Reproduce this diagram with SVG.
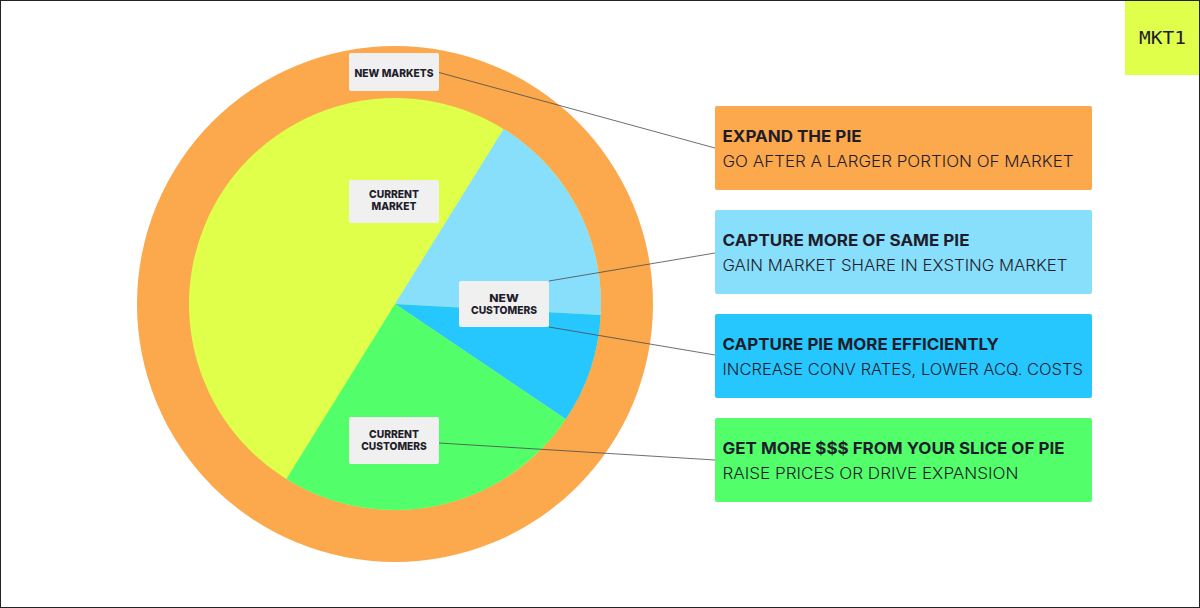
<svg xmlns="http://www.w3.org/2000/svg" width="1200" height="608" viewBox="0 0 1200 608">
<style>
.lbl{fill:#f0f0f0;}
.lt{font-family:Inter,"Noto Sans",sans-serif;font-weight:800;font-size:11px;fill:#1f1d2b;text-anchor:middle;}
.bt{font-family:Inter,"Noto Sans",sans-serif;font-weight:700;font-size:16px;fill:#1f1d2b;}
.bs{font-family:Inter,"Noto Sans",sans-serif;font-weight:300;font-size:15.5px;fill:#1f1d2b;}
.conn line{stroke:#4a4a4a;stroke-width:0.8;}
</style>
<rect x="0" y="0" width="1200" height="608" fill="#ffffff"/>
<g id="pie">
<circle cx="395" cy="304" r="258" fill="#FCA84C"/>
<circle cx="395" cy="304" r="206" fill="#DFFF4B"/>
<path d="M395,304 L503.6,128.9 A206,206 0 0 1 600.7,315.1 Z" fill="#88DFFC"/>
<path d="M395,304 L600.7,315.1 A206,206 0 0 1 565.8,419.2 Z" fill="#26C7FE"/>
<path d="M395,304 L565.8,419.2 A206,206 0 0 1 286.4,479.1 Z" fill="#52FF6B"/>
</g>
<g class="conn" id="connectors">
<line x1="439" y1="72.5" x2="715" y2="148"/>
<line x1="549" y1="281" x2="715" y2="253"/>
<line x1="549" y1="327" x2="715" y2="355"/>
<line x1="439" y1="443" x2="715" y2="460"/>
</g>
<g id="new-markets">
<rect class="lbl" x="349" y="53" width="90" height="38" rx="2"/>
<text class="lt" x="394" y="76.8" textLength="79" lengthAdjust="spacingAndGlyphs">NEW MARKETS</text>
</g>
<g id="current-market">
<rect class="lbl" x="349" y="180" width="90" height="43" rx="2"/>
<text class="lt" x="394" y="197.8" textLength="50" lengthAdjust="spacingAndGlyphs">CURRENT</text>
<text class="lt" x="394" y="209.8" textLength="45" lengthAdjust="spacingAndGlyphs">MARKET</text>
</g>
<g id="new-customers">
<rect class="lbl" x="459" y="281" width="90" height="46" rx="2"/>
<text class="lt" x="504" y="301.8" textLength="29.5" lengthAdjust="spacingAndGlyphs">NEW</text>
<text class="lt" x="504" y="314" textLength="66" lengthAdjust="spacingAndGlyphs">CUSTOMERS</text>
</g>
<g id="current-customers">
<rect class="lbl" x="349" y="417" width="90" height="47" rx="2"/>
<text class="lt" x="394" y="438" textLength="50" lengthAdjust="spacingAndGlyphs">CURRENT</text>
<text class="lt" x="394" y="450.4" textLength="65.5" lengthAdjust="spacingAndGlyphs">CUSTOMERS</text>
</g>
<g id="expand">
<rect x="715" y="106" width="377" height="84" rx="2" fill="#FCA84C"/>
<text class="bt" x="722.5" y="141.5" textLength="139" lengthAdjust="spacingAndGlyphs">EXPAND THE PIE</text>
<text class="bs" x="722.5" y="166.5" textLength="351" lengthAdjust="spacingAndGlyphs">GO AFTER A LARGER PORTION OF MARKET</text>
</g>
<g id="capture-more">
<rect x="715" y="210" width="377" height="84" rx="2" fill="#88DFFC"/>
<text class="bt" x="722.5" y="245.5" textLength="247" lengthAdjust="spacingAndGlyphs">CAPTURE MORE OF SAME PIE</text>
<text class="bs" x="722.5" y="270.5" textLength="345" lengthAdjust="spacingAndGlyphs">GAIN MARKET SHARE IN EXSTING MARKET</text>
</g>
<g id="capture-efficiently">
<rect x="715" y="314" width="377" height="84" rx="2" fill="#26C7FE"/>
<text class="bt" x="722.5" y="349.5" textLength="276.5" lengthAdjust="spacingAndGlyphs">CAPTURE PIE MORE EFFICIENTLY</text>
<text class="bs" x="722.5" y="374.5" textLength="360.5" lengthAdjust="spacingAndGlyphs">INCREASE CONV RATES, LOWER ACQ. COSTS</text>
</g>
<g id="get-more">
<rect x="715" y="418" width="377" height="84" rx="2" fill="#52FF6B"/>
<text class="bt" x="722.5" y="453.5" textLength="342" lengthAdjust="spacingAndGlyphs">GET MORE $$$ FROM YOUR SLICE OF PIE</text>
<text class="bs" x="722.5" y="478.5" textLength="296" lengthAdjust="spacingAndGlyphs">RAISE PRICES OR DRIVE EXPANSION</text>
</g>
<g id="badge">
<rect x="1125" y="0" width="75" height="75" fill="#DFFF4B"/>
<text x="1162.5" y="43.5" font-family="'DejaVu Sans Mono',monospace" font-size="17" fill="#1f1d2b" text-anchor="middle" textLength="47" lengthAdjust="spacingAndGlyphs">MKT1</text>
</g>
<rect x="0.5" y="0.5" width="1199" height="607" fill="none" stroke="#222" stroke-width="1"/>
</svg>
